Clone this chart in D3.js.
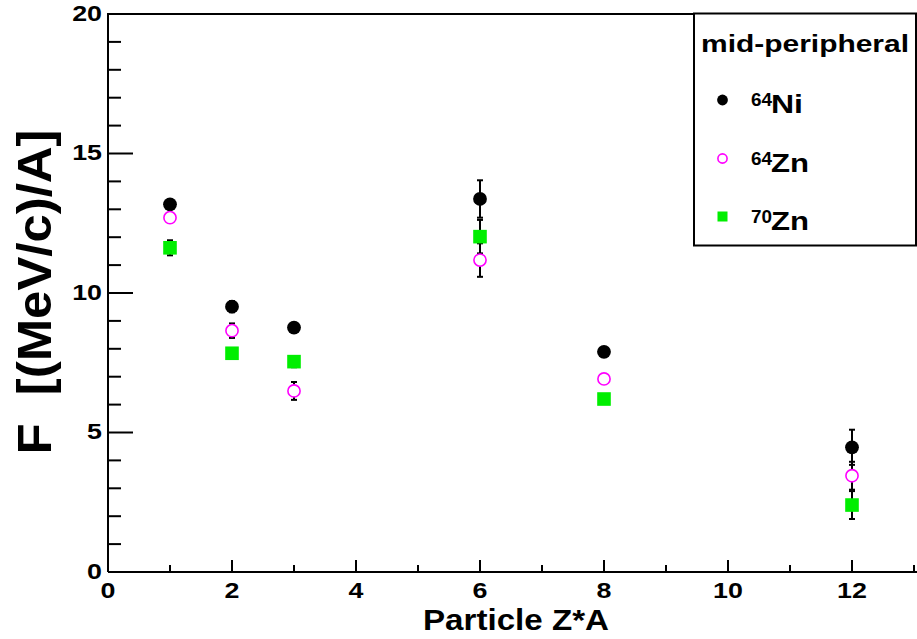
<!DOCTYPE html>
<html>
<head>
<meta charset="utf-8">
<script src="https://cdn.jsdelivr.net/npm/d3@7"></script>
<style>
  html, body { margin: 0; padding: 0; background: #fff; overflow: hidden; }
  svg { display: block; font-family: "Liberation Sans", Arial, sans-serif; font-weight: bold; }
</style>
</head>
<body>
<div id="chart"></div>
<script>
// F vs particle Z*A, mid-peripheral

const zA = [1, 2, 3, 6, 8, 12];

const ni64 = [13.18, 9.51, 8.76, 13.37, 7.89, 4.47];
const ni64Err = [0.12, 0.2, 0.15, 0.67, 0.1, 0.63];

const zn64 = [12.70, 8.65, 6.49, 11.18, 6.92, 3.45];
const zn64Err = [0.15, 0.26, 0.32, 0.6, 0.1, 0.5];

const zn70 = [11.62, 7.84, 7.54, 12.02, 6.20, 2.40];
const zn70Err = [0.27, 0.15, 0.2, 0.6, 0.1, 0.5];

const yTicks = [0, 5, 10, 15, 20];
const xTicks = [0, 2, 4, 6, 8, 10, 12];

const series = [
    { mass: '64', name: 'Ni', values: ni64, errors: ni64Err, marker: 'dot' },
    { mass: '64', name: 'Zn', values: zn64, errors: zn64Err, marker: 'ring' },
    { mass: '70', name: 'Zn', values: zn70, errors: zn70Err, marker: 'square' }
];

const width = 917;
const height = 639;
const GREEN = '#00ee00';
const MAGENTA = '#ff00ff';

const svg = d3.select('#chart')
    .append('svg')
    .attr('width', width)
    .attr('height', height);

const x = d3.scaleLinear().domain([0, 13.3]).range([108, 108 + 13.3 * 62]);
const y = d3.scaleLinear().domain([0, 20]).range([572, 14]);

// 标记
function drawMarker(g, type, cx, cy, r) {
    if (type === 'dot') {
        g.append('circle').attr('cx', cx).attr('cy', cy).attr('r', r).attr('fill', '#000');
    } else if (type === 'ring') {
        g.append('circle').attr('cx', cx).attr('cy', cy).attr('r', r - 0.8)
            .attr('fill', '#fff').attr('stroke', MAGENTA).attr('stroke-width', 1.6);
    } else {
        g.append('rect').attr('x', cx - r).attr('y', cy - r).attr('width', 2 * r).attr('height', 2 * r)
            .attr('fill', GREEN);
    }
}

// 误差棒
const errG = svg.append('g');
series.forEach(s => {
    zA.forEach((za, i) => {
        const cx = x(za);
        const lo = y(s.values[i] - s.errors[i]);
        const hi = y(s.values[i] + s.errors[i]);
        errG.append('line').attr('x1', cx).attr('x2', cx).attr('y1', lo).attr('y2', hi)
            .attr('stroke', '#000').attr('stroke-width', 2);
        [lo, hi].forEach(yy => {
            errG.append('line').attr('x1', cx - 3).attr('x2', cx + 3).attr('y1', yy).attr('y2', yy)
                .attr('stroke', '#000').attr('stroke-width', 2);
        });
    });
});

// 数据点
const markG = svg.append('g');
series.forEach(s => {
    zA.forEach((za, i) => {
        drawMarker(markG, s.marker, x(za), y(s.values[i]), s.marker === 'square' ? 6.8 : 6.9);
    });
});

// 边框
const frame = svg.append('g').attr('stroke', '#000').attr('stroke-width', 2).attr('fill', 'none');
frame.append('path').attr('d', `M${x(0)},${y(0)} V${y(20)} H${width + 5}`);
frame.append('path').attr('d', `M${x(0)},${y(0)} H${width + 5}`);

// Y 轴刻度
const yMinor = d3.range(0, 20.01, 1);
svg.append('g').selectAll('line').data(yMinor).enter().append('line')
    .attr('x1', x(0)).attr('x2', d => x(0) + (d % 5 === 0 ? 25 : 13))
    .attr('y1', d => y(d)).attr('y2', d => y(d))
    .attr('stroke', '#000').attr('stroke-width', 2);

// X 轴刻度
const xMinor = d3.range(0, 13.01, 1);
svg.append('g').selectAll('line').data(xMinor).enter().append('line')
    .attr('x1', d => x(d)).attr('x2', d => x(d))
    .attr('y1', y(0)).attr('y2', d => y(0) - (d % 2 === 0 ? 12 : 7))
    .attr('stroke', '#000').attr('stroke-width', 2);

// 刻度标签
svg.append('g').selectAll('text').data(yTicks).enter().append('text')
    .attr('transform', d => `translate(102,${y(d) + 6.5}) scale(1.22,1)`)
    .attr('text-anchor', 'end')
    .style('font-size', '22px')
    .text(d => d);

svg.append('g').selectAll('text').data(xTicks).enter().append('text')
    .attr('transform', d => `translate(${x(d)},598) scale(1.22,1)`)
    .attr('text-anchor', 'middle')
    .style('font-size', '22px')
    .text(d => d);

// 轴标题
svg.append('text')
    .attr('x', 423).attr('y', 630)
    .attr('textLength', 186).attr('lengthAdjust', 'spacingAndGlyphs')
    .style('font-size', '30px')
    .text('Particle Z*A');

svg.append('text')
    .attr('transform', 'translate(51,292) rotate(-90)')
    .attr('text-anchor', 'middle')
    .attr('textLength', 325).attr('lengthAdjust', 'spacingAndGlyphs')
    .style('font-size', '49px')
    .style('white-space', 'pre')
    .text('F  [(MeV/c)/A]');

// 图例
const leg = svg.append('g');
leg.append('rect').attr('x', 694).attr('y', 13.5).attr('width', 222).attr('height', 232)
    .attr('fill', '#fff').attr('stroke', '#000').attr('stroke-width', 2);
leg.append('text').attr('x', 701).attr('y', 52)
    .attr('textLength', 208).attr('lengthAdjust', 'spacingAndGlyphs')
    .style('font-size', '24px').text('mid-peripheral');

const legY = [100, 158.5, 216.5];
series.forEach((s, i) => {
    const cy = legY[i];
    drawMarker(leg, s.marker, 722.5, cy, s.marker === 'square' ? 5 : 5.4);
    const t = leg.append('text').attr('x', 751).attr('y', cy + 13);
    t.append('tspan').attr('dy', -7).style('font-size', '18px')
        .attr('textLength', 21).attr('lengthAdjust', 'spacingAndGlyphs').text(s.mass);
    t.append('tspan').attr('x', 771).attr('dy', 7).style('font-size', '26px')
        .attr('textLength', s.name === 'Ni' ? 32 : 38).attr('lengthAdjust', 'spacingAndGlyphs').text(s.name);
});
</script>
</body>
</html>
